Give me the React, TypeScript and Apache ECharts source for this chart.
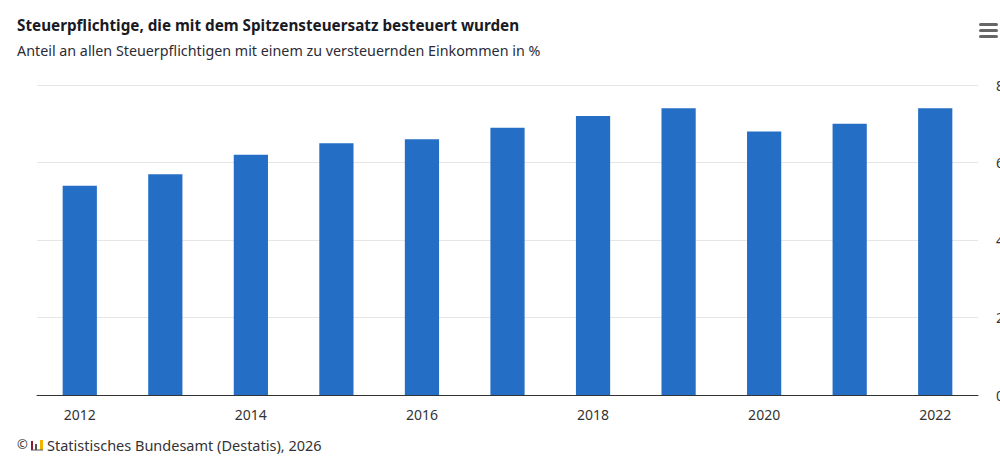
import React, { useEffect, useRef } from "react";
import * as echarts from "echarts";

const categories = ["2012", "2013", "2014", "2015", "2016", "2017", "2018", "2019", "2020", "2021", "2022"];
const shareValues = [5.4, 5.7, 6.2, 6.5, 6.6, 6.9, 7.2, 7.4, 6.8, 7.0, 7.4];
const titleText = "Steuerpflichtige, die mit dem Spitzensteuersatz besteuert wurden";
const subtitleText = "Anteil an allen Steuerpflichtigen mit einem zu versteuernden Einkommen in %";
const creditText = "Statistisches Bundesamt (Destatis), 2026";
const font = "Noto Sans";

export default function App() {
  const ref = useRef<HTMLDivElement>(null);
  useEffect(() => {
    const chart = echarts.init(ref.current!, undefined, { renderer: "svg" });
    chart.setOption({
      animation: false,
      backgroundColor: "#ffffff",
      textStyle: { fontFamily: font },
      grid: { left: 37, right: 22, top: 85, bottom: 67, outerBoundsMode: "none" },
      xAxis: {
        type: "category",
        data: categories,
        axisTick: { show: false },
        axisLine: { lineStyle: { color: "#333333", width: 1 } },
        axisLabel: { interval: 1, color: "#333333", fontSize: 14, margin: 12, fontFamily: font },
      },
      yAxis: {
        type: "value",
        position: "right",
        min: 0,
        max: 8,
        interval: 2,
        axisLine: { show: false },
        axisTick: { show: false },
        splitLine: { lineStyle: { color: "#e6e6e6", width: 1 } },
        axisLabel: { color: "#333333", fontSize: 14, margin: 18, fontFamily: font },
      },
      series: [
        {
          type: "bar",
          data: shareValues,
          barWidth: "40%",
          itemStyle: { color: "#256EC6" },
        },
      ],
      graphic: [
        { type: "text", x: 17, y: 17, style: { text: titleText, fill: "#1a1a24", font: `700 15.25px "${font}"` } },
        { type: "text", x: 17, y: 43, style: { text: subtitleText, fill: "#2b2b36", font: `14.3px "${font}"` } },
        { type: "text", x: 17, y: 437, style: { text: "©", fill: "#333333", font: `13px "${font}"` } },
        { type: "rect", shape: { x: 31, y: 441, width: 2, height: 9 }, style: { fill: "#8c1c2c" } },
        { type: "rect", shape: { x: 35, y: 444, width: 2, height: 6 }, style: { fill: "#555555" } },
        { type: "rect", shape: { x: 40, y: 440, width: 3, height: 10 }, style: { fill: "#f0b400" } },
        { type: "line", shape: { x1: 31, y1: 450, x2: 43, y2: 450 }, style: { stroke: "#555555", lineWidth: 1 } },
        { type: "text", x: 47, y: 437, style: { text: creditText, fill: "#333333", font: `14.5px "${font}"` } },
        { type: "rect", shape: { x: 979, y: 23, width: 19, height: 3, r: 1.5 }, style: { fill: "#666666" } },
        { type: "rect", shape: { x: 979, y: 29, width: 19, height: 3, r: 1.5 }, style: { fill: "#666666" } },
        { type: "rect", shape: { x: 979, y: 35, width: 19, height: 3, r: 1.5 }, style: { fill: "#666666" } },
      ],
    });
    return () => chart.dispose();
  }, []);
  return <div ref={ref} style={{ position: "absolute", left: 0, top: 0, width: 1000, height: 462 }} />;
}
